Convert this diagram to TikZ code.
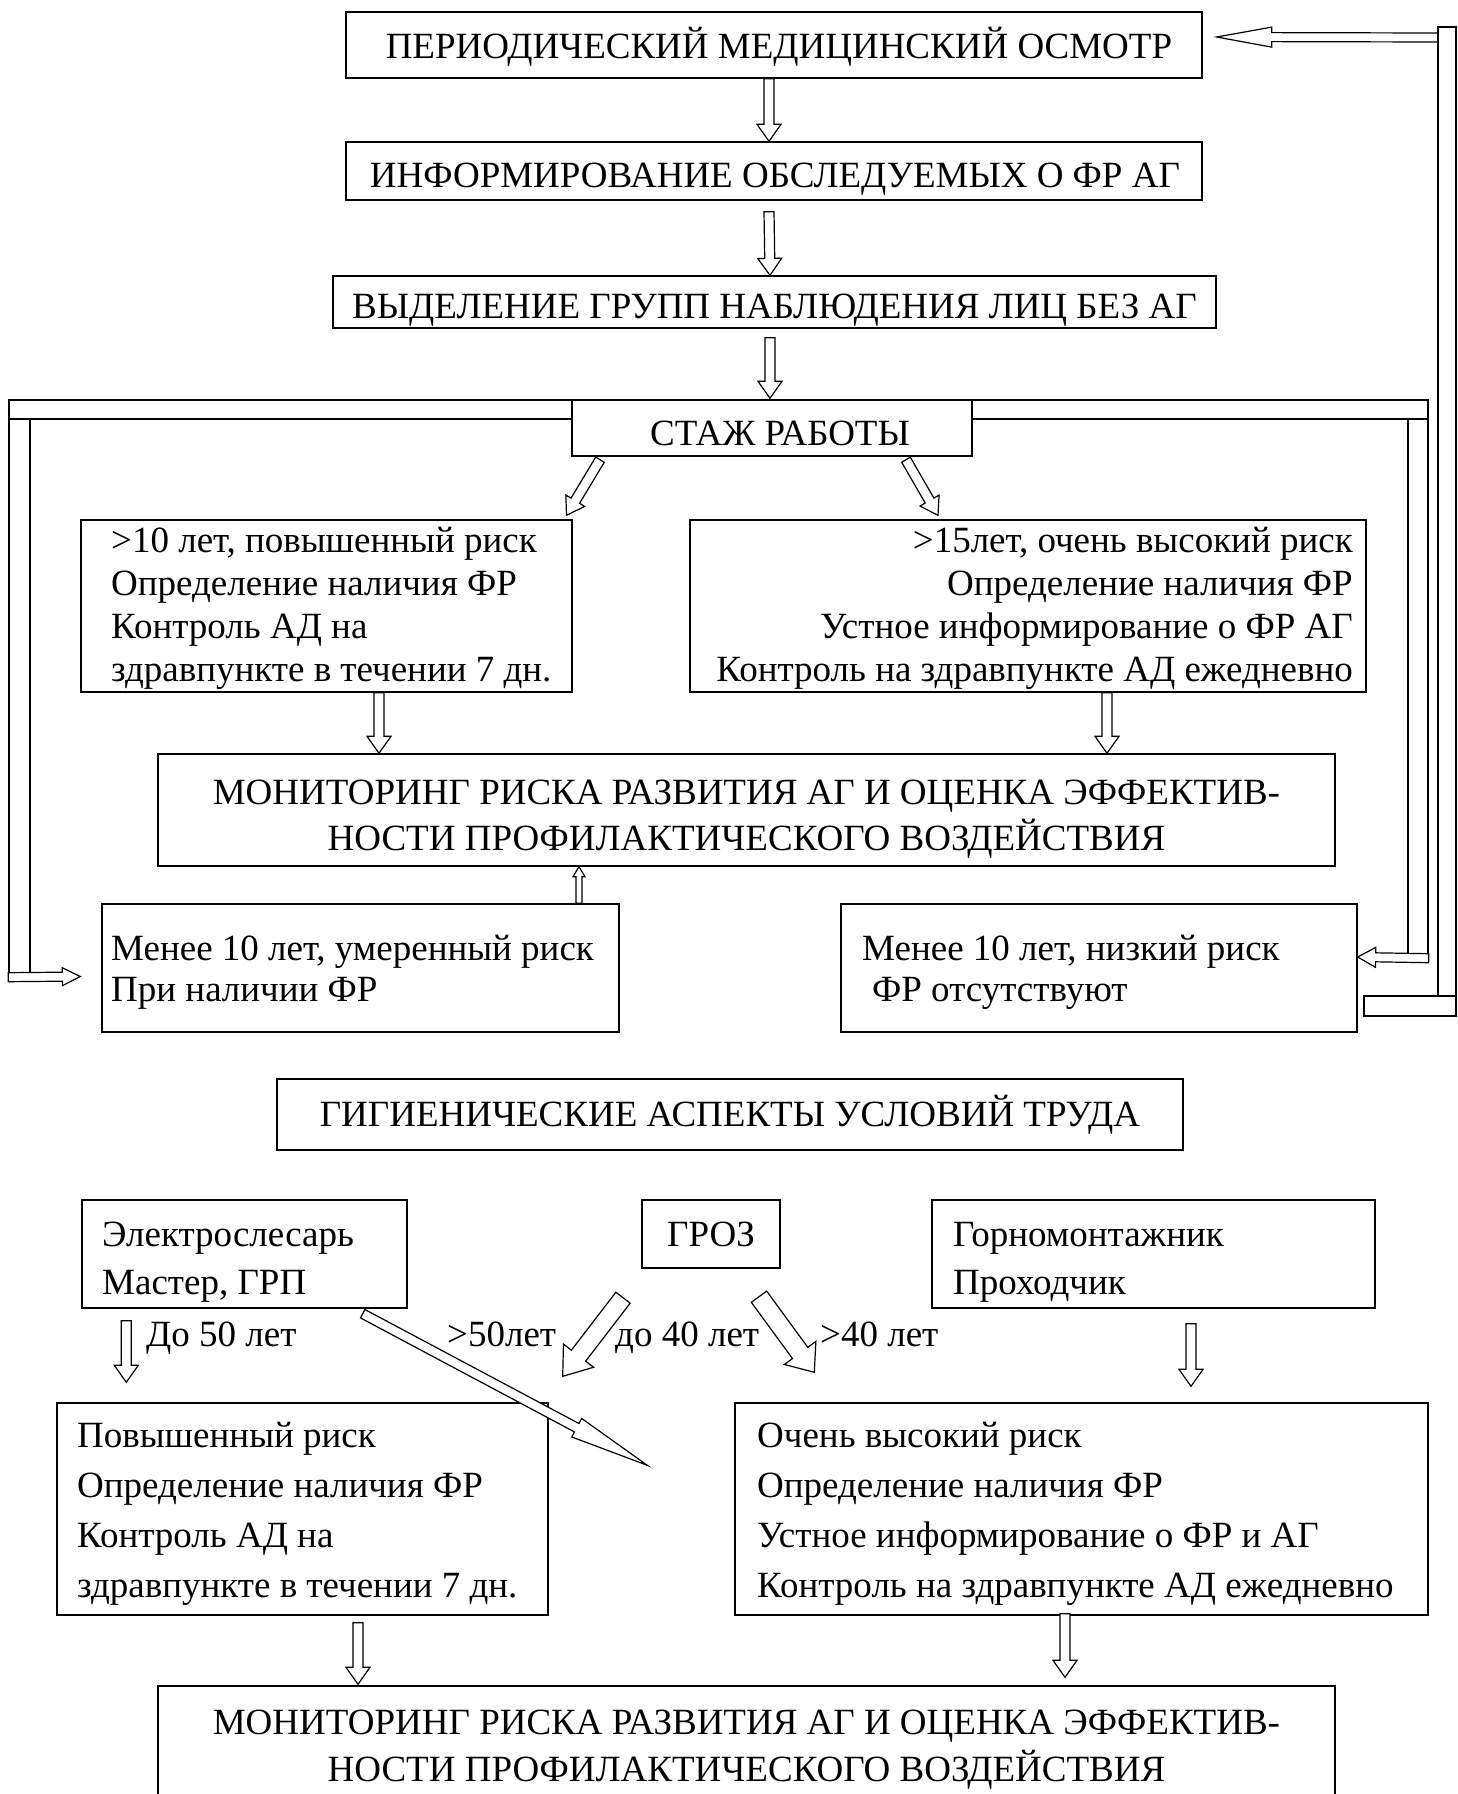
\documentclass[tikz,border=0pt]{standalone}
\usepackage{fontspec}
\setmainfont{Liberation Serif}
\usetikzlibrary{calc}
\tikzset{
  box/.style={draw, line width=1.4pt, fill=white, inner sep=0pt, font=\fontsize{37}{45}\selectfont, align=center},
  caps/.style={inner sep=0pt, font=\fontsize{37}{43}\selectfont, text height=25pt, text depth=0pt},
  txt/.style={inner sep=0pt, font=\fontsize{37}{43}\selectfont},
  arr/.style={draw, line width=1.2pt, fill=white, line join=miter},
  band/.style={draw, line width=1.4pt, fill=white},
}
\newcommand{\blockarr}[5]{%
  \coordinate (baA) at (#1);
  \coordinate (baB) at (#2);
  \coordinate (baH) at ($(baB)!#5!(baA)$);
  \draw[arr] ($(baA)!#3!90:(baB)$) -- ($(baH)!#3!90:(baB)$) -- ($(baH)!#4!90:(baB)$) -- (baB) -- ($(baH)!-#4!90:(baB)$) -- ($(baH)!-#3!90:(baB)$) -- ($(baA)!-#3!90:(baB)$) -- cycle;}
\begin{document}
\begin{tikzpicture}[x=1pt,y=-1pt]
\path[use as bounding box, fill=white] (0,0) rectangle (1458,1794);

% ---- feedback path (right) ----
\node[box, minimum width=856, minimum height=66] (b1) at (774,45) {};
\node[caps] (b1t) at (779,46) {ПЕРИОДИЧЕСКИЙ МЕДИЦИНСКИЙ ОСМОТР};
\coordinate (fbEnd) at (1438,37.5);
\blockarr{fbEnd}{$(b1.east)+(14,-8)$}{4.5pt}{10pt}{55pt}
\node[band, minimum width=18, minimum height=989] (fbV) at (1447,521.5) {};
\node[band, minimum width=92, minimum height=20] (fbB) at (1410,1006) {};

\node[box, minimum width=856, minimum height=58] (b2) at (774,171) {};
\node[caps] (b2t) at (775,175) {ИНФОРМИРОВАНИЕ ОБСЛЕДУЕМЫХ О ФР АГ};
\node[box, minimum width=883, minimum height=52] (b3) at (774.5,302) {};
\node[caps] (b3t) at (774.5,305.5) {ВЫДЕЛЕНИЕ ГРУПП НАБЛЮДЕНИЯ ЛИЦ БЕЗ АГ};

% ---- bands around СТАЖ РАБОТЫ ----
\node[band, minimum width=1419, minimum height=19] (hb) at (718.5,409.5) {};
\node[band, minimum width=21, minimum height=562] (lv) at (19.5,700) {};
\node[band, minimum width=20, minimum height=543] (rv) at (1418,690.5) {};
\node[box, minimum width=400, minimum height=56] (st) at (772,428) {};
\node[caps] (stt) at (780,432.5) {СТАЖ РАБОТЫ};

\blockarr{$(b1.south)+(-5,0)$}{$(b2.north)+(-5,0)$}{5pt}{12pt}{17pt}
\blockarr{$(b2.south)+(-5,11)$}{$(b3.north)+(-4.5,0)$}{5pt}{12pt}{17pt}
\blockarr{$(b3.south)+(-4.5,9)$}{$(st.north)+(-2,-1)$}{5pt}{12pt}{17pt}

% ---- second level ----
\node[box, minimum width=491, minimum height=172] (bL) at (326.5,606) {};
\node[txt, anchor=west, align=left] (bLt) at (111,608) {>10 лет, повышенный риск\\Определение наличия ФР\\Контроль АД на\\здравпункте в течении 7 дн.};
\node[box, minimum width=676, minimum height=172] (bR) at (1028,606) {};
\node[txt, anchor=east, align=right] (bRt) at (1353,608) {>15лет, очень высокий риск\\Определение наличия ФР\\Устное информирование о ФР АГ\\Контроль на здравпункте АД ежедневно};

\blockarr{$(st.south)+(-172,3)$}{$(bL.north)+(240,-4)$}{5pt}{11pt}{17pt}
\blockarr{$(st.south)+(134,3)$}{$(bR.north)+(-90,-4)$}{5pt}{11pt}{17pt}

\node[box, minimum width=1177, minimum height=112] (m1) at (746.5,810) {};
\node[txt, align=center, font=\fontsize{37}{46}\selectfont] (m1t) at (746.5,819) {МОНИТОРИНГ РИСКА РАЗВИТИЯ АГ И ОЦЕНКА ЭФФЕКТИВ-\\НОСТИ ПРОФИЛАКТИЧЕСКОГО ВОЗДЕЙСТВИЯ};
\blockarr{$(bL.south)+(52.5,0)$}{$(m1.north)+(-367.5,0)$}{5pt}{12pt}{17pt}
\blockarr{$(bR.south)+(79,0)$}{$(m1.north)+(360.5,0)$}{5pt}{12pt}{17pt}

\node[box, minimum width=517, minimum height=128] (mod) at (360.5,968) {};
\node[txt, anchor=west, align=left, font=\fontsize{37}{41}\selectfont] (modt) at (111,972) {Менее 10 лет, умеренный риск\\При наличии ФР};
\node[box, minimum width=516, minimum height=128] (low) at (1099,968) {};
\node[txt, anchor=west, align=left, font=\fontsize{37}{41}\selectfont] (lowt) at (862,972) {Менее 10 лет, низкий риск\\\hspace*{10pt}ФР отсутствуют};
\blockarr{$(mod.north)+(218.5,0)$}{$(m1.south)+(-167.5,0)$}{3pt}{6pt}{10pt}

\blockarr{$(lv.south west)+(0,-4.5)$}{$(mod.west)+(-21,8.5)$}{4.5pt}{9pt}{18pt}
\blockarr{$(rv.south east)+(0,-4.5)$}{$(low.east)+(0,-11)$}{4.5pt}{10pt}{18pt}

% ---- lower part ----
\node[box, minimum width=906, minimum height=71] (hyg) at (730,1114.5) {ГИГИЕНИЧЕСКИЕ АСПЕКТЫ УСЛОВИЙ ТРУДА};

\node[box, minimum width=325, minimum height=108] (el) at (244.5,1254) {};
\node[txt, anchor=west, align=left, font=\fontsize{37}{48}\selectfont] (elt) at (102,1262) {Электрослесарь\\Мастер, ГРП};
\node[box, minimum width=138, minimum height=68] (groz) at (711,1234) {ГРОЗ};
\node[box, minimum width=443, minimum height=108] (gorn) at (1153.5,1254) {};
\node[txt, anchor=west, align=left, font=\fontsize{37}{48}\selectfont] (gornt) at (953,1262) {Горномонтажник\\Проходчик};

\node[box, minimum width=491, minimum height=212] (pov) at (302.5,1509) {};
\node[txt, anchor=west, align=left, font=\fontsize{37}{50}\selectfont] (povt) at (77,1514) {Повышенный риск\\Определение наличия ФР\\Контроль АД на\\здравпункте в течении 7 дн.};
\node[box, minimum width=693, minimum height=212] (och) at (1081.5,1509) {};
\node[txt, anchor=west, align=left, font=\fontsize{37}{50}\selectfont] (ocht) at (757,1514) {Очень высокий риск\\Определение наличия ФР\\Устное информирование о ФР и АГ\\Контроль на здравпункте АД ежедневно};

\node[box, minimum width=1177, minimum height=120] (m2) at (746.5,1746) {};
\node[txt, align=center, font=\fontsize{37}{47}\selectfont] (m2t) at (746.5,1750) {МОНИТОРИНГ РИСКА РАЗВИТИЯ АГ И ОЦЕНКА ЭФФЕКТИВ-\\НОСТИ ПРОФИЛАКТИЧЕСКОГО ВОЗДЕЙСТВИЯ};

\coordinate (a9s) at ($(el.south west)+(45,12)$);
\coordinate (a9e) at ($(pov.north west)+(70,-20)$);
\blockarr{a9s}{a9e}{5pt}{12pt}{17pt}
\coordinate (a10s) at ($(el.south east)+(-45,5)$);
\coordinate (a10e) at ($(och.north west)+(-87,63)$);
\blockarr{a10s}{a10e}{4.75pt}{10.5pt}{80pt}
\coordinate (a11s) at ($(groz.south)+(-88,29)$);
\coordinate (a11e) at ($(pov.north east)+(14,-26)$);
\blockarr{a11s}{a11e}{9pt}{19pt}{26pt}
\coordinate (a12s) at ($(groz.south)+(48,28)$);
\coordinate (a12e) at ($(och.north west)+(80,-30)$);
\blockarr{a12s}{a12e}{9.5pt}{19.5pt}{24pt}
\coordinate (a13s) at ($(gorn.south)+(37.5,15)$);
\coordinate (a13e) at ($(och.north)+(109.5,-16)$);
\blockarr{a13s}{a13e}{5pt}{12pt}{17pt}
\blockarr{$(pov.south)+(55.5,7)$}{$(m2.north)+(-388.5,-1)$}{5pt}{12pt}{17pt}
\blockarr{$(och.south)+(-16.5,-2)$}{$(m2.north)+(318.5,-8)$}{5pt}{12pt}{17pt}

\node[txt, anchor=base west] (l1) at (146,1346) {До 50 лет};
\node[txt, anchor=base west] (l2) at (447,1346) {>50лет};
\node[txt, anchor=base west] (l3) at (615,1346) {до 40 лет};
\node[txt, anchor=base west] (l4) at (820,1346) {>40 лет};
\end{tikzpicture}
\end{document}
